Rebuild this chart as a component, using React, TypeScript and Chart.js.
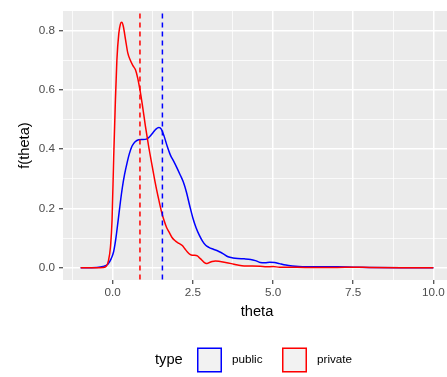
import React, { useEffect, useRef } from "react";
import { Chart, registerables } from "chart.js";

Chart.register(...registerables);

const thetaPrivate = [-1, -0.5, -0.3, -0.2, -0.13, -0.07, -0.02, 0.03, 0.08, 0.13, 0.19, 0.24, 0.28, 0.33, 0.4, 0.47, 0.55, 0.63, 0.71, 0.78, 0.85, 0.92, 1.02, 1.12, 1.23, 1.33, 1.44, 1.52, 1.6, 1.68, 1.75, 1.85, 1.96, 2.07, 2.17, 2.25, 2.33, 2.41, 2.48, 2.56, 2.64, 2.7, 2.77, 2.85, 2.92, 3.0, 3.1, 3.2, 3.35, 3.52, 3.7, 3.9, 4.1, 4.35, 4.6, 4.8, 5.0, 5.2, 5.5, 6.0, 6.5, 7.0, 7.5, 8.0, 9.0, 10.0];
const densPrivate = [0, 0, 0.001, 0.005, 0.025, 0.07, 0.16, 0.37, 0.55, 0.7, 0.79, 0.822, 0.828, 0.815, 0.77, 0.725, 0.7, 0.682, 0.668, 0.64, 0.6, 0.553, 0.478, 0.41, 0.344, 0.285, 0.228, 0.19, 0.16, 0.136, 0.122, 0.102, 0.09, 0.082, 0.075, 0.064, 0.053, 0.045, 0.042, 0.042, 0.04, 0.034, 0.027, 0.018, 0.014, 0.017, 0.021, 0.023, 0.021, 0.018, 0.014, 0.009, 0.006, 0.006, 0.005, 0.003, 0.004, 0.002, 0.002, 0.001, 0.001, 0.001, 0.002, 0.001, 0, 0];

const thetaPublic = [-1, -0.5, -0.3, -0.15, -0.05, 0.03, 0.1, 0.17, 0.24, 0.3, 0.37, 0.45, 0.52, 0.6, 0.7, 0.81, 0.92, 1.05, 1.15, 1.25, 1.35, 1.44, 1.52, 1.6, 1.7, 1.8, 1.9, 2.0, 2.11, 2.2, 2.3, 2.4, 2.5, 2.6, 2.7, 2.8, 2.9, 3.0, 3.1, 3.2, 3.31, 3.45, 3.6, 3.75, 3.9, 4.1, 4.3, 4.45, 4.6, 4.75, 4.9, 5.05, 5.2, 5.4, 5.6, 5.8, 6.0, 6.5, 7.0, 7.5, 8.0, 9.0, 10.0];
const densPublic = [0, 0.001, 0.004, 0.012, 0.03, 0.055, 0.1, 0.16, 0.222, 0.27, 0.315, 0.355, 0.385, 0.41, 0.425, 0.432, 0.433, 0.434, 0.442, 0.455, 0.468, 0.473, 0.467, 0.445, 0.41, 0.38, 0.36, 0.338, 0.312, 0.29, 0.255, 0.21, 0.168, 0.135, 0.11, 0.09, 0.076, 0.069, 0.064, 0.06, 0.055, 0.047, 0.037, 0.033, 0.031, 0.03, 0.028, 0.024, 0.018, 0.017, 0.019, 0.018, 0.014, 0.009, 0.006, 0.004, 0.003, 0.003, 0.003, 0.002, 0.001, 0, 0];

const meanPrivate = 0.85;
const meanPublic = 1.55;

const xTicks = [-1.25, 0, 1.25, 2.5, 3.75, 5, 6.25, 7.5, 8.75, 10];
const xMajor = [0, 2.5, 5, 7.5, 10];
const yTicks = [0, 0.1, 0.2, 0.3, 0.4, 0.5, 0.6, 0.7, 0.8];
const yMajor = [0, 0.2, 0.4, 0.6, 0.8];

const legendTitle = "type";
const legendLabels = ["public", "private"];
const legendColors = ["#0000FF", "#FF0000"];

const FONT = "'Liberation Sans', Arial, sans-serif";

const isIn = (arr: number[], v: number) => arr.some((a) => Math.abs(a - v) < 1e-6);

const panelBg = {
  id: "panelBg",
  beforeDraw(chart: any) {
    const { ctx, chartArea } = chart;
    ctx.save();
    ctx.fillStyle = "#EBEBEB";
    ctx.fillRect(chartArea.left, chartArea.top, chartArea.right - chartArea.left, chartArea.bottom - chartArea.top);
    ctx.restore();
  },
};

const legendPlugin = {
  id: "ggLegend",
  afterDraw(chart: any) {
    const { ctx } = chart;
    ctx.save();
    const cy = 360;
    ctx.textBaseline = "middle";
    ctx.fillStyle = "#000000";
    ctx.font = `14.67px ${FONT}`;
    ctx.fillText(legendTitle, 155, cy);
    const boxX = [197, 282];
    const textX = [232, 317];
    ctx.font = `11.7px ${FONT}`;
    legendLabels.forEach((lab, i) => {
      ctx.fillStyle = "#F2F2F2";
      ctx.fillRect(boxX[i], cy - 12.5, 25, 25);
      ctx.strokeStyle = legendColors[i];
      ctx.lineWidth = 1.5;
      ctx.strokeRect(boxX[i] + 0.75, cy - 12.5 + 0.75, 23.5, 23.5);
      ctx.fillStyle = "#000000";
      ctx.fillText(lab, textX[i], cy);
    });
    ctx.restore();
  },
};

export default function App() {
  const ref = useRef<HTMLCanvasElement>(null);
  useEffect(() => {
    if (!ref.current) return;
    const toPts = (xs: number[], ys: number[]) => xs.map((x, i) => ({ x, y: ys[i] }));
    const chart = new Chart(ref.current, {
      type: "line",
      data: {
        datasets: [
          {
            data: [{ x: meanPrivate, y: -0.1 }, { x: meanPrivate, y: 1 }],
            borderColor: "#FF0000",
            borderWidth: 1.5,
            borderDash: [5, 4],
            pointRadius: 0,
          },
          {
            data: [{ x: meanPublic, y: -0.1 }, { x: meanPublic, y: 1 }],
            borderColor: "#0000FF",
            borderWidth: 1.5,
            borderDash: [5, 4],
            pointRadius: 0,
          },
          {
            label: "private",
            data: toPts(thetaPrivate, densPrivate),
            borderColor: "#FF0000",
            borderWidth: 1.5,
            pointRadius: 0,
            cubicInterpolationMode: "monotone",
          },
          {
            label: "public",
            data: toPts(thetaPublic, densPublic),
            borderColor: "#0000FF",
            borderWidth: 1.5,
            pointRadius: 0,
            cubicInterpolationMode: "monotone",
          },
        ],
      },
      options: {
        animation: false,
        responsive: false,
        layout: { padding: { top: 5, right: 0, left: 0, bottom: 52 } },
        plugins: { legend: { display: false }, tooltip: { enabled: false } },
        scales: {
          x: {
            type: "linear",
            min: -1.55,
            max: 10.55,
            afterBuildTicks: (scale: any) => {
              scale.ticks = xTicks.map((v) => ({ value: v }));
            },
            afterFit: (scale: any) => {
              scale.height = 45;
            },
            ticks: {
              autoSkip: false,
              maxRotation: 0,
              padding: 2,
              color: "#4D4D4D",
              font: { family: FONT, size: 11.7 },
              callback: (v: any) => (isIn(xMajor, Number(v)) ? Number(v).toFixed(1) : ""),
            },
            grid: {
              color: "#FFFFFF",
              lineWidth: (c: any) => (isIn(xMajor, c.tick?.value) ? 1.5 : 0.75),
              tickColor: (c: any) => (isIn(xMajor, c.tick?.value) ? "#333333" : "rgba(0,0,0,0)"),
              tickWidth: 1.1,
              tickLength: 4,
            },
            border: { display: false },
            title: {
              display: true,
              text: "theta",
              color: "#000000",
              font: { family: FONT, size: 14.67 },
              padding: { top: 0, bottom: 4 },
            },
          },
          y: {
            type: "linear",
            min: -0.0413,
            max: 0.8663,
            afterBuildTicks: (scale: any) => {
              scale.ticks = yTicks.map((v) => ({ value: v }));
            },
            afterFit: (scale: any) => {
              scale.width = 63;
            },
            ticks: {
              autoSkip: false,
              padding: 4,
              color: "#4D4D4D",
              font: { family: FONT, size: 11.7 },
              callback: (v: any) => (isIn(yMajor, Number(v)) ? Number(v).toFixed(1) : ""),
            },
            grid: {
              color: "#FFFFFF",
              lineWidth: (c: any) => (isIn(yMajor, c.tick?.value) ? 1.5 : 0.75),
              tickColor: (c: any) => (isIn(yMajor, c.tick?.value) ? "#333333" : "rgba(0,0,0,0)"),
              tickWidth: 1.1,
              tickLength: 4,
            },
            border: { display: false },
            title: {
              display: true,
              text: "f(theta)",
              color: "#000000",
              font: { family: FONT, size: 14.67 },
              padding: { top: 15.7, bottom: 0 },
            },
          },
        },
      },
      plugins: [panelBg, legendPlugin],
    });
    return () => chart.destroy();
  }, []);
  return (
    <div style={{ position: "fixed", left: 0, top: 0, width: 447, height: 377, overflow: "hidden", background: "#FFFFFF" }}>
      <canvas ref={ref} width={451} height={377} style={{ display: "block" }} />
    </div>
  );
}
